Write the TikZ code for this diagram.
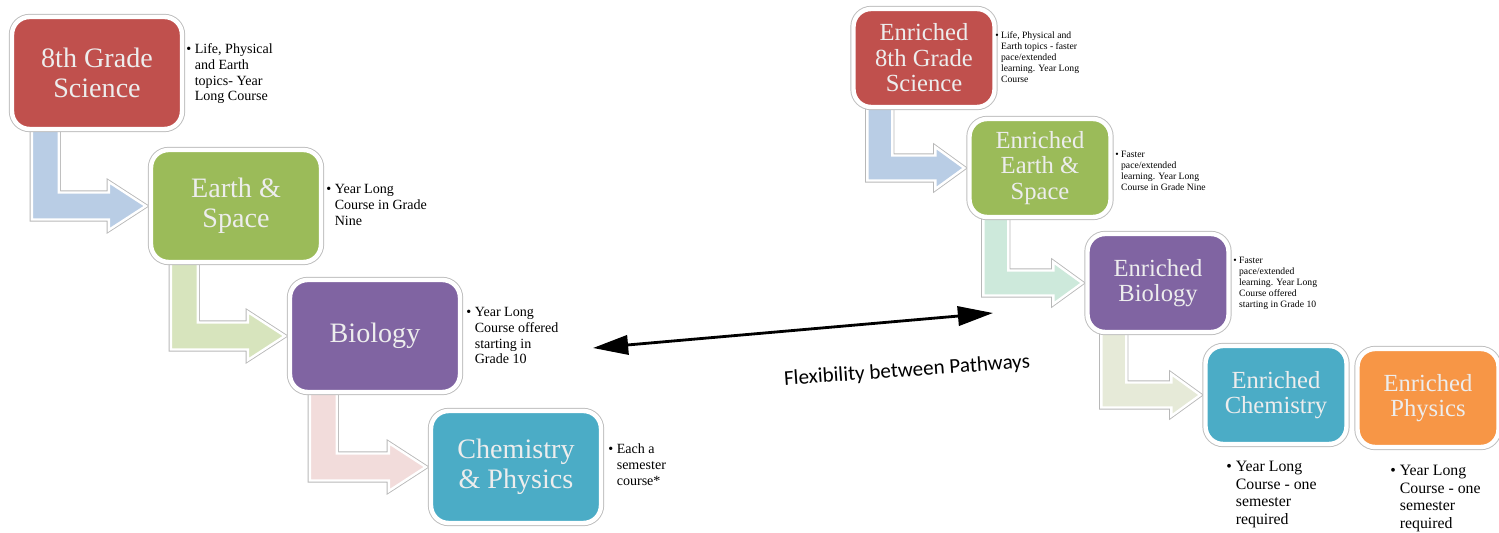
\documentclass[tikz,border=0pt]{standalone}
\usepackage{fontspec}
\setmainfont{Liberation Serif}
\newfontfamily\flexfont{Carlito}
\usetikzlibrary{calc, arrows.meta, backgrounds}

\definecolor{redbox}{HTML}{C0504D}
\definecolor{greenbox}{HTML}{9BBB59}
\definecolor{purplebox}{HTML}{8064A2}
\definecolor{tealbox}{HTML}{4BACC6}
\definecolor{orangebox}{HTML}{F79646}
\definecolor{bluebend}{HTML}{B9CDE5}
\definecolor{greenbend}{HTML}{D7E4BD}
\definecolor{pinkbend}{HTML}{F2DCDB}
\definecolor{mintbend}{HTML}{CDE9DB}
\definecolor{beigebend}{HTML}{E6EAD8}

% bullet with hanging lines
\newcommand\notelist[1]{\begin{tabular}[t]{@{}l@{\hspace{0.25em}}l@{}}\textbullet & \begin{tabular}[t]{@{}l@{}}#1\end{tabular}\end{tabular}}

% bent block arrow: source, target, colour, stem offset, half bar, head length, half head
\newcommand\bentarrow[7]{%
  \fill[#3, draw=white, line width=1.4pt, line join=miter,
    preaction={draw=black!28, line width=2.4pt, line join=miter}]
    ($(#1.south west)+(#4,-6)$) -- ++({2*#5},0)
    |- ($(#2.west)+({-#6-3},{-#5})$) -- ++(0,{#5-#7})
    -- ($(#2.west)+(-3,0)$)
    -- ($(#2.west)+({-#6-3},{#7})$) -- ++(0,{#5-#7})
    -| ($(#1.south west)+(#4,-6)$) -- cycle;}

\begin{document}
\begin{tikzpicture}[
    x=0.02cm, y=-0.02cm,
    course/.style={rounded corners=10pt, draw=white, line width=2.5pt,
      text=white!93!black, align=center, inner sep=2pt,
      preaction={draw=black!25, line width=3.6pt}},
    basic/.style={course, minimum width=3.4cm, minimum height=2.24cm,
      font=\fontsize{16}{17}\selectfont},
    enriched/.style={course, minimum width=2.82cm, minimum height=1.96cm,
      font=\fontsize{14}{14.5}\selectfont},
    note/.style={anchor=north west, inner sep=0pt, text=black,
      font=\fontsize{8}{9}\selectfont},
    tinynote/.style={note, font=\fontsize{5.5}{6.2}\selectfont},
    bignote/.style={note, font=\fontsize{9}{10}\selectfont}
  ]
  \useasboundingbox (0,0) rectangle (1499,533);

  % standard pathway
  \node[basic, fill=redbox] (sci) at (97,73) {8th Grade\\Science};
  \node[basic, fill=greenbox] (earth) at (236,206) {Earth \&\\Space};
  \node[basic, fill=purplebox] (bio) at (375,336) {Biology};
  \node[basic, fill=tealbox] (chemphys) at (516,467) {Chemistry\\\& Physics};

  \node[note] (scinote) at (186,42) {\notelist{Life, Physical\\and Earth\\topics- Year\\Long Course}};
  \node[note] (earthnote) at (326,182) {\notelist{Year Long\\Course in Grade\\Nine}};
  \node[note] (bionote) at (466,305) {\notelist{Year Long\\Course offered\\starting in\\Grade 10}};
  \node[note] (chemphysnote) at (608,442) {\notelist{Each a\\semester\\course*}};

  % enriched pathway
  \node[enriched, fill=redbox] (esci) at (924,58) {Enriched\\8th Grade\\Science};
  \node[enriched, fill=greenbox] (eearth) at (1040,168) {Enriched\\Earth \&\\Space};
  \node[enriched, fill=purplebox] (ebio) at (1158,283) {Enriched\\Biology};
  \node[enriched, fill=tealbox] (echem) at (1276,395) {Enriched\\Chemistry};
  \node[enriched, fill=orangebox] (ephys) at (1428,398) {Enriched\\Physics};

  \node[tinynote] (escinote) at (995,31) {\notelist{Life, Physical and\\Earth topics - faster\\pace/extended\\learning. Year Long\\Course}};
  \node[tinynote] (eearthnote) at (1115,150) {\notelist{Faster\\pace/extended\\learning. Year Long\\Course in Grade Nine}};
  \node[tinynote] (ebionote) at (1233,256) {\notelist{Faster\\pace/extended\\learning. Year Long\\Course offered\\starting in Grade 10}};
  \node[bignote] (echemnote) at (1226,459) {\notelist{Year Long\\Course - one\\semester\\required}};
  \node[bignote] (ephysnote) at (1390,463) {\notelist{Year Long\\Course - one\\semester\\required}};

  % bent arrows behind the boxes
  \begin{pgfonlayer}{background}
    \bentarrow{sci}{earth}{bluebend}{22}{13.5}{37}{24}
    \bentarrow{earth}{bio}{greenbend}{22}{13.5}{37}{24}
    \bentarrow{bio}{chemphys}{pinkbend}{22}{13.5}{37}{24}
    \bentarrow{esci}{eearth}{bluebend}{16}{12.5}{29}{21}
    \bentarrow{eearth}{ebio}{mintbend}{16}{12.5}{29}{21}
    \bentarrow{ebio}{echem}{beigebend}{16}{12.5}{29}{21}
  \end{pgfonlayer}

  % flexibility
  \coordinate (flexL) at (593,348);
  \coordinate (flexR) at (993,313);
  \draw[{Triangle[length=20pt,width=11pt]}-{Triangle[length=20pt,width=11pt]}, line width=1.6pt] (flexL) -- (flexR);
  \node[rotate=4, font=\flexfont\fontsize{12}{14}\selectfont] (flexlabel) at (907,371) {Flexibility between Pathways};
\end{tikzpicture}
\end{document}
